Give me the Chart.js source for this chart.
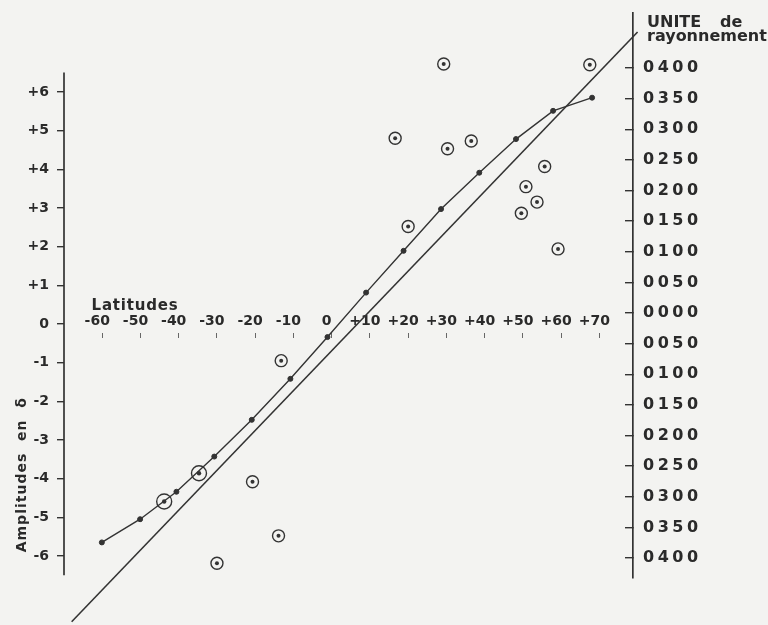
<!DOCTYPE html>
<html><head><meta charset="utf-8">
<script src="https://cdn.jsdelivr.net/npm/chart.js@4.4.1/dist/chart.umd.min.js"></script>
<style>html,body{margin:0;padding:0;background:#f3f3f1;}</style>
</head><body>
<canvas id="c" width="768" height="625"></canvas>
<script>
// ---- data ----
const latitudeTicks  = [-60,-50,-40,-30,-20,-10,0,10,20,30,40,50,60,70];
const latitudeLabels = ['-60','-50','-40','-30','-20','-10','0','+10','+20','+30','+40','+50','+60','+70'];
const amplitudeTicks  = [6,5,4,3,2,1,0,-1,-2,-3,-4,-5,-6];
const amplitudeLabels = ['+6','+5','+4','+3','+2','+1','0','-1','-2','-3','-4','-5','-6'];
const radiationTicks  = [400,350,300,250,200,150,100,50,0,-50,-100,-150,-200,-250,-300,-350,-400];
const radiationLabels = ['0400','0350','0300','0250','0200','0150','0100','0050','0000','0050','0100','0150','0200','0250','0300','0350','0400'];

// straight reference line
const lineLat = [-68, 80];
const lineAmp = [-7.7, 7.55];
// mean curve (small dots joined)
const curveLat = [-60.1,-50.1,-40.6,-30.7,-20.9,-10.8,-1.1,9.0,18.8,28.6,38.6,48.2,57.9,68.1];
const curveAmp = [-5.65,-5.05,-4.34,-3.43,-2.48,-1.42,-0.34,0.81,1.89,2.97,3.91,4.78,5.51,5.85];
// circled observations
const obsLat = [29.3,67.5,16.6,30.3,36.5,55.7,50.8,53.7,49.6,20.0,59.2,-13.2,-20.7,-13.9,-30.0];
const obsAmp = [6.72,6.70,4.80,4.53,4.73,4.07,3.55,3.15,2.86,2.52,1.94,-0.95,-4.08,-5.48,-6.19];
// larger circled observations on the curve
const bigLat = [-43.8,-34.7];
const bigAmp = [-4.59,-3.86];

const INK = '#333333';
const TXT = '#2a2a2a';
const BG = '#f3f3f1';
const FONT = 'DejaVu Sans';

const pts = (xs, ys) => xs.map((x, i) => ({x, y: ys[i]}));
const labelFrom = (ticks, labels) => v => { const i = ticks.indexOf(v); return i < 0 ? '' : labels[i]; };

function spaced(scale, px) {
  if (scale._spacedPatch) return;
  const orig = scale.drawLabels;
  scale.drawLabels = function (area) {
    const ctx = this.ctx; ctx.save(); ctx.letterSpacing = px; orig.call(this, area); ctx.restore();
  };
  scale._spacedPatch = true;
}
function noPad(s) { s.paddingTop = 0; s.paddingBottom = 0; s.paddingLeft = 0; s.paddingRight = 0; }

const bgPlugin = {
  id: 'bg',
  beforeDraw(chart) {
    const ctx = chart.ctx; ctx.save(); ctx.fillStyle = BG; ctx.fillRect(0, 0, chart.width, chart.height); ctx.restore();
  }
};

const extrasPlugin = {
  id: 'extras',
  afterDraw(chart) {
    const ctx = chart.ctx, xs = chart.scales.x, ys = chart.scales.y, y2 = chart.scales.y2;
    ctx.save();
    // left axis line
    ctx.strokeStyle = INK; ctx.lineWidth = 1.7;
    ctx.beginPath();
    ctx.moveTo(chart.chartArea.left, ys.getPixelForValue(6.5));
    ctx.lineTo(chart.chartArea.left, ys.getPixelForValue(-6.5));
    ctx.stroke();
    ctx.fillStyle = TXT;
    // "Latitudes"
    ctx.font = 'bold 15px "' + FONT + '"'; ctx.letterSpacing = '0.8px';
    ctx.textAlign = 'left'; ctx.textBaseline = 'alphabetic';
    ctx.fillText('Latitudes', xs.getPixelForValue(-62.8), ys.getPixelForValue(0.36));
    // right axis heading
    ctx.font = 'bold 16px "' + FONT + '"'; ctx.letterSpacing = '0px';
    const hx = y2.left + 14;
    ctx.fillText('UNITE', hx, 27);
    ctx.fillText('de', hx + 73, 27);
    ctx.fillText('rayonnement', hx, 41);
    // left title
    ctx.font = 'bold 14px "' + FONT + '"'; ctx.letterSpacing = '1px';
    ctx.translate(22, ys.getPixelForValue(-3.9));
    ctx.rotate(-Math.PI / 2);
    ctx.textAlign = 'center'; ctx.textBaseline = 'middle';
    ctx.fillText('Amplitudes  en  δ', 0, 0);
    ctx.restore();
  }
};

new Chart(document.getElementById('c'), {
  type: 'scatter',
  data: {
    datasets: [
      { data: pts(lineLat, lineAmp), showLine: true, pointRadius: 0, borderColor: INK, borderWidth: 1.6, clip: false },
      { data: pts(curveLat, curveAmp), showLine: true, borderColor: INK, borderWidth: 1.4,
        pointRadius: 2.5, pointBackgroundColor: INK, pointBorderColor: INK, pointBorderWidth: 1, clip: false },
      { data: pts(obsLat, obsAmp), showLine: false, pointRadius: 6, pointBorderWidth: 1.4,
        pointBorderColor: INK, pointBackgroundColor: 'rgba(0,0,0,0)', clip: false },
      { data: pts(obsLat, obsAmp), showLine: false, pointRadius: 2, pointBorderWidth: 0,
        pointBackgroundColor: INK, clip: false },
      { data: pts(bigLat, bigAmp), showLine: false, pointRadius: 7.5, pointBorderWidth: 1.4,
        pointBorderColor: INK, pointBackgroundColor: 'rgba(0,0,0,0)', clip: false },
      { data: pts(bigLat, bigAmp), showLine: false, pointRadius: 2.2, pointBorderWidth: 0,
        pointBackgroundColor: INK, clip: false }
    ]
  },
  options: {
    responsive: false,
    animation: false,
    events: [],
    layout: { padding: { left: 0, right: 0, top: 13, bottom: 47 } },
    plugins: { legend: { display: false }, tooltip: { enabled: false }, title: { display: false } },
    scales: {
      x: {
        type: 'linear', min: -70, max: 78.8,
        position: { y: -0.23 },
        border: { display: false },
        grid: { drawOnChartArea: false, drawTicks: true, tickLength: 5, color: '#666', lineWidth: 1 },
        ticks: { autoSkip: false, maxRotation: 0, minRotation: 0, padding: -25, labelOffset: -5,
                 color: TXT, font: { family: FONT, size: 14, weight: 'bold' },
                 callback: labelFrom(latitudeTicks, latitudeLabels) },
        afterBuildTicks: s => { s.ticks = latitudeTicks.map(v => ({ value: v })); },
        afterFit: s => { noPad(s); }
      },
      y: {
        type: 'linear', position: 'left', min: -6.57, max: 8.04,
        border: { display: false },
        grid: { drawOnChartArea: false, drawTicks: true, tickLength: 7, color: INK, lineWidth: 1.4 },
        ticks: { padding: 8, color: TXT, font: { family: FONT, size: 14, weight: 'bold' },
                 callback: labelFrom(amplitudeTicks, amplitudeLabels) },
        afterBuildTicks: s => { s.ticks = amplitudeTicks.map(v => ({ value: v })); },
        afterFit: s => { s.width = 64; noPad(s); }
      },
      y2: {
        type: 'linear', position: 'right', min: -432.7, max: 489.8,
        border: { display: true, color: INK, width: 1.7 },
        grid: { drawOnChartArea: false, drawTicks: true, tickLength: -8, color: INK, lineWidth: 1.4 },
        ticks: { padding: 18, color: TXT, font: { family: FONT, size: 16, weight: 'bold' },
                 callback: labelFrom(radiationTicks, radiationLabels) },
        afterBuildTicks: s => { s.ticks = radiationTicks.map(v => ({ value: v })); },
        afterFit: s => { s.width = 135; noPad(s); spaced(s, '3.5px'); }
      }
    }
  },
  plugins: [bgPlugin, extrasPlugin]
});
</script>
</body></html>
